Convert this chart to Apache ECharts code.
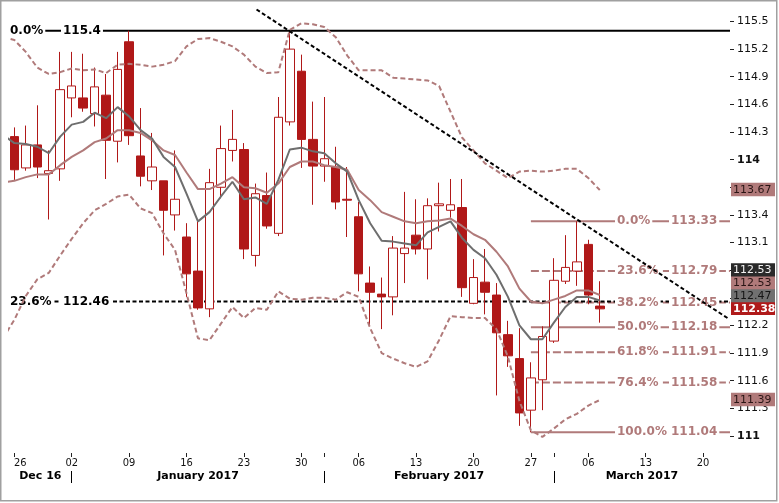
<!DOCTYPE html>
<html><head><meta charset="utf-8">
<script src="https://cdn.jsdelivr.net/npm/echarts@6/dist/echarts.min.js"></script>
<style>html,body{margin:0;padding:0;background:#fff}#c{width:779px;height:503px}</style>
</head><body><div id="c"></div>
<script>
// ---------- data ----------
const dayTickIdx    = [0,5,10,15,20,25,30,35,40,45,50,55,60];
const dayTickLabels = ['26','02','09','16','23','30','06','13','20','27','06','13','20'];
const monthStartIdx = [5,27,47];
const monthNames    = ['Dec 16','January 2017','February 2017','March 2017'];

const opens  = [114.25,113.91,114.16,113.85,113.90,114.67,114.67,114.50,114.70,114.20,
                115.28,114.04,113.77,113.77,113.40,113.16,112.79,112.38,113.70,114.10,
                114.11,112.96,113.61,113.20,114.41,114.96,114.22,113.93,113.92,113.57,
                113.38,112.66,112.54,112.51,112.98,113.18,113.03,113.50,113.45,113.48,
                112.44,112.67,112.53,112.10,111.84,111.28,111.61,112.03,112.68,112.79,
                113.08,112.41];
const highs  = [114.35,114.37,114.59,114.10,115.17,115.17,115.15,115.00,114.93,115.17,
                115.40,114.56,114.29,113.77,114.10,113.31,113.33,113.90,114.37,114.54,
                114.18,113.74,113.86,114.68,115.39,115.14,114.63,114.68,114.14,113.92,
                113.54,112.84,112.72,113.17,113.65,113.57,113.58,113.75,113.79,113.79,
                112.92,113.03,112.66,112.25,112.17,111.80,112.19,112.93,113.18,113.33,
                113.13,112.68];
const lows   = [113.78,113.88,113.80,113.35,113.77,114.46,114.52,114.36,113.79,113.97,
                114.16,113.71,113.67,112.96,113.23,112.51,112.37,112.29,113.58,113.98,
                112.92,112.84,113.25,113.17,114.37,113.91,113.51,113.76,113.46,113.16,
                112.57,112.19,112.16,112.31,112.66,112.97,112.70,113.22,113.37,112.51,
                112.43,112.32,111.44,111.75,111.11,111.04,111.28,112.01,112.65,112.63,
                112.43,112.23];
const closes = [113.89,114.16,113.92,113.88,114.76,114.80,114.56,114.79,114.21,114.98,
                114.26,113.82,113.92,113.45,113.57,112.76,112.39,113.75,114.12,114.22,
                113.03,113.63,113.28,114.46,115.20,114.22,113.93,114.01,113.54,113.56,
                112.76,112.56,112.51,113.04,113.04,113.03,113.50,113.52,113.51,112.61,
                112.72,112.56,112.12,111.87,111.25,111.63,112.08,112.69,112.83,112.89,
                112.53,112.38];

// indicator lines start one bar before the first candle
const lineStartIdx = -1;
const maFast = [114.27,
  114.18,114.17,114.14,114.07,114.25,114.38,114.41,114.51,114.45,114.57,
  114.47,114.32,114.23,114.03,113.92,113.63,113.33,113.43,113.60,113.76,
  113.57,113.59,113.52,113.78,114.11,114.13,114.09,114.07,113.96,113.87,
  113.56,113.31,113.12,113.11,113.09,113.07,113.21,113.27,113.33,113.15,
  113.02,112.93,112.75,112.51,112.20,112.05,112.05,112.23,112.40,112.51,
  112.51,112.47];
const maSlow = [113.75,
  113.77,113.81,113.84,113.84,113.94,114.03,114.10,114.19,114.23,114.32,
  114.32,114.29,114.21,114.10,114.05,113.86,113.68,113.68,113.74,113.81,
  113.70,113.69,113.64,113.74,113.92,113.98,113.98,113.94,113.92,113.89,
  113.67,113.56,113.43,113.38,113.33,113.31,113.33,113.34,113.36,113.28,
  113.19,113.13,113.00,112.84,112.60,112.46,112.44,112.48,112.52,112.58,
  112.58,112.53];
const bandUpper = [115.33,
  115.30,115.17,115.00,114.93,114.95,114.99,114.97,114.98,114.94,115.03,
  115.04,115.03,115.01,115.03,115.07,115.23,115.31,115.32,115.28,115.23,
  115.14,115.01,114.94,114.95,115.41,115.48,115.47,115.44,115.33,115.13,
  114.97,114.97,114.97,114.89,114.88,114.87,114.86,114.80,114.52,114.24,
  114.10,113.96,113.88,113.80,113.87,113.88,113.87,113.88,113.90,113.90,
  113.80,113.67];
const bandLower = [112.06,
  112.26,112.52,112.70,112.77,112.96,113.14,113.31,113.45,113.52,113.60,
  113.62,113.47,113.42,113.20,113.02,112.55,112.06,112.04,112.22,112.40,
  112.28,112.39,112.37,112.57,112.49,112.48,112.50,112.50,112.48,112.56,
  112.51,112.17,111.90,111.84,111.79,111.75,111.81,112.04,112.30,112.29,
  112.28,112.28,112.16,111.86,111.38,111.06,110.99,111.08,111.18,111.24,
  111.33,111.39];

const trendLine = [[21.1,115.63],[62.25,112.27]];

const majorLevels = [115.4, 112.46];
const majorPcts   = ['0.0%','23.6%'];
const fibLevels   = [113.33,112.79,112.45,112.18,111.91,111.58,111.04];
const fibPcts     = ['0.0%','23.6%','38.2%','50.0%','61.8%','76.4%','100.0%'];

const yTicks = [111,111.3,111.6,111.9,112.2,112.5,112.8,113.1,113.4,113.7,114,114.3,114.6,114.9,115.2,115.5];

// ---------- derived ----------
const X_MIN = -0.4617, X_MAX = 62.343;
const Y_MIN = 110.815, Y_MAX = 115.679;
const FONT = '"DejaVu Sans"';
const RED = '#b01818', ROSY = '#b07a7a', GRAY = '#6e6e6e';

const candles = opens.map((o,i)=>[i, o, closes[i], lows[i], highs[i]]);
const toLine = arr => arr.map((v,k)=>[k+lineStartIdx, v]);
const fibStartIdx = lows.indexOf(Math.min(...lows));
const isSolid = p => p==='0.0%' || p==='50.0%' || p==='100.0%';

const monthBounds = [X_MIN].concat(monthStartIdx, [X_MAX]);
const monthMids = monthNames.map((_,i)=>(monthBounds[i]+monthBounds[i+1])/2);

const tags = [
  {value: bandLower.at(-1), bg: ROSY, fg:'#2a1515'},
  {value: closes.at(-1), bg: '#b01a1a', fg:'#ffffff', bold:true},
  {value: maFast.at(-1), bg: '#707070', fg:'#151515'},
  {value: maSlow.at(-1), bg: ROSY, fg:'#2a1515'},
  {value: closes.at(-2), bg: '#2a2a2a', fg:'#f2f2f2'},
  {value: bandUpper.at(-1), bg: ROSY, fg:'#2a1515'}
];
// axis labels hidden where a value tag sits on top of them
const coveredByTag = v => tags.some(t => Math.abs(t.value - v) < 0.05);

const chart = echarts.init(document.getElementById('c'), null, {renderer:'canvas'});

function textEl(x, y, text, color, font) {
  return {type:'text', x, y, style:{text, fill: color, font, align:'left', verticalAlign:'middle',
          backgroundColor:'#ffffff', padding:[0,2,0,2]}};
}

const option = {
  animation: false,
  backgroundColor: '#ffffff',
  grid: {left: 9, right: 49, top: 5, bottom: 50, containLabel: false},
  xAxis: [{
    type:'value', min: X_MIN, max: X_MAX, position:'bottom',
    axisLine:{show:false, onZero:false}, splitLine:{show:false},
    axisTick:{show:true, length:4, lineStyle:{color:'#222', width:1},
      customValues: dayTickIdx.concat(monthStartIdx.filter(i=>dayTickIdx.indexOf(i)<0))},
    axisLabel:{customValues: dayTickIdx, margin: 5, color:'#111',
      fontSize: 11, fontFamily: '"DejaVu Sans Condensed", "DejaVu Sans"',
      formatter: v => { const k = dayTickIdx.indexOf(Math.round(v)); const s = dayTickLabels[k]; return k===0 ? '{f|'+s+'}' : s; },
      rich:{f:{padding:[0,0,0,12], fontSize:11, fontFamily:'"DejaVu Sans Condensed", "DejaVu Sans"', color:'#111'}}}
  },{
    type:'value', min: X_MIN, max: X_MAX, position:'bottom', offset: 18,
    axisLine:{show:false, onZero:false}, splitLine:{show:false},
    axisTick:{show:true, length:12, customValues: monthStartIdx, lineStyle:{color:'#000', width:1}},
    axisLabel:{customValues: monthMids, margin: 0, color:'#000', fontSize: 11, fontWeight:'bold', fontFamily: FONT,
      formatter: v => { let k=0, d=1e9; monthMids.forEach((m,i)=>{ if(Math.abs(m-v)<d){d=Math.abs(m-v);k=i;} }); return monthNames[k]; }}
  }],
  yAxis: [{
    type:'value', position:'right', min: Y_MIN, max: Y_MAX,
    axisLine:{show:false, onZero:false}, splitLine:{show:false},
    axisTick:{show:true, length:4, customValues: yTicks, lineStyle:{color:'#222'}},
    axisLabel:{customValues: yTicks, margin: 7, color:'#111', fontSize: 11, fontFamily: FONT,
      formatter: v => { if (coveredByTag(v)) return ''; const s = String(+v.toFixed(1)); return Number.isInteger(+s) ? '{b|'+s+'}' : s; },
      rich:{b:{fontWeight:'bold', fontSize:11, fontFamily: FONT, color:'#111'}}}
  }],
  series: [
    {type:'candlestick', name:'price', data: candles, encode:{x:0, y:[1,2,3,4]}, barWidth: 9, silent:true,
     itemStyle:{color:'#ffffff', color0: RED, borderColor: RED, borderColor0: RED, borderWidth: 1}},
    {type:'line', name:'upper', data: toLine(bandUpper), symbol:'none', silent:true,
     lineStyle:{color: ROSY, width: 2, type:[5,3]}},
    {type:'line', name:'lower', data: toLine(bandLower), symbol:'none', silent:true,
     lineStyle:{color: ROSY, width: 2, type:[5,3]}},
    {type:'line', name:'slow', data: toLine(maSlow), symbol:'none', silent:true,
     lineStyle:{color: ROSY, width: 2}},
    {type:'line', name:'fast', data: toLine(maFast), symbol:'none', silent:true,
     lineStyle:{color: GRAY, width: 2}},
    {type:'line', name:'trend', data: trendLine, symbol:'none', silent:true,
     lineStyle:{color:'#000', width: 2, type:[4,2.5]}},
    {type:'custom', name:'fibLines', silent:true, clip:false,
     data: fibLevels.map(v=>[fibStartIdx, v]), encode:{x:0, y:1},
     renderItem(params, api){
       const cs = params.coordSys;
       const p = api.coord([api.value(0), api.value(1)]);
       const pct = fibPcts[params.dataIndex];
       return {type:'line', shape:{x1:p[0], y1:p[1], x2:cs.x+cs.width, y2:p[1]},
               style:{stroke: ROSY, lineWidth: 2, lineDash: isSolid(pct) ? null : [8,3]}};
     }},
    {type:'custom', name:'majorLevels', silent:true, clip:false,
     data: majorLevels.map(v=>[X_MIN, v]), encode:{x:0, y:1},
     renderItem(params, api){
       const cs = params.coordSys;
       const v = api.value(1);
       const y = api.coord([api.value(0), v])[1];
       const pct = majorPcts[params.dataIndex];
       const f = 'bold 12px '+FONT;
       return {type:'group', children:[
         {type:'line', shape:{x1:cs.x, y1:y, x2:cs.x+cs.width, y2:y},
          style:{stroke:'#000', lineWidth:2, lineDash: isSolid(pct) ? null : [4,2.5]}},
         textEl(cs.x-1, y, pct, '#000', f),
         textEl(cs.x+52, y, String(v), '#000', f)
       ]};
     }},
    {type:'custom', name:'fibLabels', silent:true, clip:false,
     data: fibLevels.map(v=>[fibStartIdx, v]), encode:{x:0, y:1},
     renderItem(params, api){
       const cs = params.coordSys;
       const v = api.value(1);
       const y = api.coord([api.value(0), v])[1];
       const right = cs.x + cs.width;
       const f = 'bold 12px '+FONT;
       return {type:'group', children:[
         textEl(right-115, y, fibPcts[params.dataIndex], ROSY, f),
         textEl(right-61, y, v.toFixed(2), ROSY, f)
       ]};
     }},
    {type:'custom', name:'tags', silent:true, clip:false, z: 10,
     data: [[X_MAX, closes.at(-1)]], encode:{x:0, y:1},
     renderItem(params, api){
       const cs = params.coordSys;
       const x = cs.x + cs.width + 1;
       const h = 12.8;
       const order = tags.map((t,i)=>({t, i})).sort((a,b)=> a.t.value - b.t.value || a.i - b.i);
       let prev = Infinity;
       const children = [];
       order.forEach(({t})=>{
         let yc = api.coord([X_MAX, t.value])[1] - 0.6;
         if (yc > prev - h) yc = prev - h;
         prev = yc;
         children.push({type:'rect', shape:{x, y: yc-h/2-0.3, width:44, height:h+0.6}, style:{fill:t.bg}});
         children.push({type:'text', x: x+2, y: yc+0.5, style:{text: t.value.toFixed(2), fill:t.fg,
           font:(t.bold?'bold ':'')+'11px '+FONT, align:'left', verticalAlign:'middle'}});
       });
       return {type:'group', children};
     }}
  ],
  graphic: [{type:'rect', silent:true, z:100, shape:{x:0.75, y:0.75, width:776, height:500},
             style:{fill:'transparent', stroke:'#a0a0a0', lineWidth:1.5}}]
};
chart.setOption(option);
</script></body></html>
